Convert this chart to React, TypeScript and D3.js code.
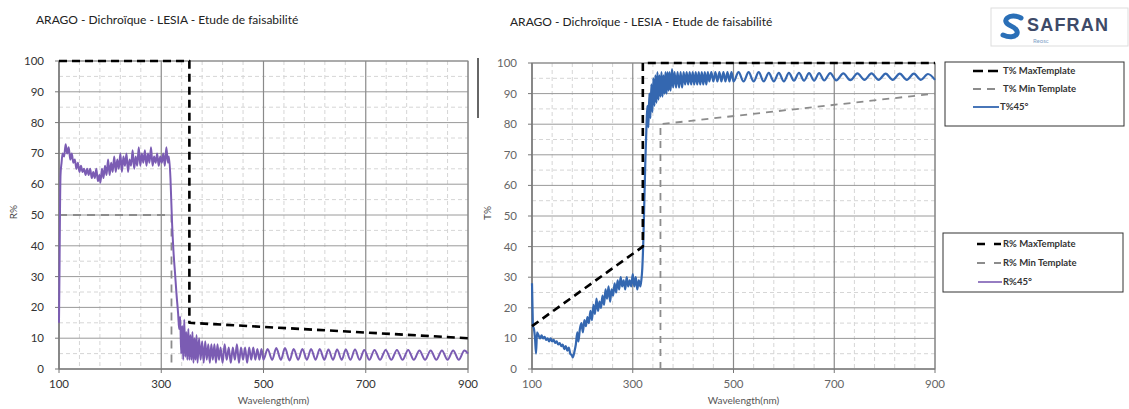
import React from 'react';
import * as d3 from 'd3';

type P = [number, number];

const TITLE = 'ARAGO - Dichroïque - LESIA - Etude de faisabilité';
const WL_TICKS = [100, 300, 500, 700, 900];
const PCT_TICKS = [0, 10, 20, 30, 40, 50, 60, 70, 80, 90, 100];
const X_LABEL = 'Wavelength(nm)';

// Left panel: reflection
const R_MAX_TEMPLATE: P[] = [[100, 100], [355, 100], [355, 15], [900, 10]];
const R_MIN_TEMPLATE: P[] = [[100, 50], [320, 50], [320, 0]];
const R_45: P[] = [
  [100, 15], [101, 32], [102, 52], [103, 63], [105, 67], [107, 70], [110, 69], [113, 73], [116, 70], [119, 72],
  [122, 68], [125, 70], [128, 67], [131, 68], [134, 65], [137, 67], [140, 64], [143, 66], [146, 64], [149, 65],
  [152, 63], [155, 65], [158, 63], [161, 65], [164, 62], [167, 64], [170, 62], [173, 65], [176, 61], [179, 63],
  [181, 60.5], [184, 65], [187, 62], [190, 66], [193, 63], [196, 68], [199, 63], [202, 67], [205, 64], [208, 69],
  [211, 64], [214, 68], [217, 65], [220, 70], [223, 64], [226, 69], [229, 66], [232, 70], [235, 64], [238, 68],
  [241, 66], [244, 71], [247, 65], [250, 69], [253, 66], [256, 72], [259, 66], [262, 70], [265, 67], [268, 71],
  [271, 66], [274, 70], [277, 67], [280, 72], [283, 66], [286, 69], [289, 67], [292, 70], [295, 66], [298, 69],
  [301, 67], [304, 70], [307, 66], [310, 72], [313, 67], [315, 69], [318, 62], [321, 48], [324, 38], [327, 31],
  [330, 24], [333, 18], [335, 13], [337, 17], [339, 5], [341, 14], [343, 3], [345, 16], [347, 4], [349, 12],
  [351, 3], [353, 13], [355, 3], [357, 11], [359, 3], [361, 12], [363, 2], [365, 10], [367, 3], [369, 11],
  [371, 2], [374, 10], [377, 3], [380, 9], [383, 2], [386, 9], [389, 3], [392, 8], [395, 2], [398, 8],
  [401, 3], [404, 8], [407, 2], [410, 8], [413, 3], [416, 7], [420, 2], [424, 8], [428, 3], [432, 7],
  [436, 2], [440, 7], [444, 3], [448, 8], [452, 2], [456, 7], [460, 3], [464, 7], [468, 2], [472, 7],
  [476, 3], [480, 7], [484, 3], [488, 6.5], [492, 3], [496, 6.5], [500, 3], [508, 6.5], [517, 3], [525, 6.8],
  [534, 3], [542, 6.8], [551, 2.8], [559, 6.5], [568, 3], [576, 6.5], [585, 3], [593, 6.5], [602, 3], [610, 6.5],
  [619, 3], [627, 6.3], [636, 3], [644, 6.3], [653, 3], [661, 6.3], [670, 3], [679, 6.3], [688, 3], [697, 6.2],
  [707, 3], [717, 6.2], [728, 3], [739, 6.2], [750, 3], [761, 6.2], [772, 3], [783, 6.2], [794, 3], [805, 6],
  [816, 3], [827, 6], [838, 3], [849, 6], [860, 3], [871, 6], [882, 3], [893, 6], [900, 5],
];

// Right panel: transmission
const T_MAX_TEMPLATE: P[] = [[100, 14], [320, 40], [320, 100], [900, 100]];
const T_MIN_TEMPLATE: P[] = [[355, 0], [355, 80], [900, 90]];
const T_45: P[] = [
  [100, 28], [101, 20], [102, 14], [104, 13], [106, 10], [108, 5], [110, 12], [113, 11], [116, 10], [119, 11],
  [122, 10], [125, 10.5], [128, 9.5], [131, 10], [134, 9], [137, 10], [140, 9], [143, 9.5], [146, 8.5], [149, 9],
  [152, 8], [155, 8.5], [158, 7.5], [161, 8], [164, 6.5], [167, 7.5], [170, 6], [173, 7], [176, 5], [179, 4.5],
  [181, 3.8], [184, 5.5], [187, 8], [190, 12], [192, 9], [195, 13], [198, 15], [201, 12], [204, 16], [207, 14],
  [210, 17], [213, 15], [216, 19], [219, 16], [222, 21], [225, 18], [228, 23], [231, 19], [234, 22], [237, 20],
  [240, 24], [243, 21], [246, 26], [249, 23], [252, 27], [255, 22], [258, 26], [261, 24], [264, 28], [267, 25],
  [270, 29], [273, 26], [276, 30], [279, 27], [282, 29], [285, 26], [288, 30], [291, 27], [294, 29], [297, 27],
  [300, 31], [303, 27], [306, 30], [309, 26], [312, 29], [315, 27], [317, 29], [319, 33], [321, 42], [323, 55],
  [325, 68], [327, 78], [329, 86], [331, 79], [333, 90], [335, 82], [337, 93], [339, 84], [341, 95], [343, 86],
  [345, 96], [347, 87], [349, 97], [351, 88], [353, 96], [355, 89], [357, 97], [359, 89], [361, 96], [363, 90],
  [365, 97], [367, 90], [369, 97], [371, 91], [373, 97], [375, 91], [378, 98], [380, 92], [383, 97], [386, 92],
  [389, 97], [392, 92], [395, 97], [398, 92], [401, 97], [404, 93], [407, 97], [410, 93], [413, 97], [416, 93],
  [419, 97], [422, 93], [425, 97], [428, 93], [431, 97], [434, 93], [437, 97], [440, 93], [443, 97], [446, 93],
  [449, 97], [452, 94], [456, 97], [460, 94], [464, 97], [468, 94], [472, 97], [476, 94], [480, 97], [484, 94],
  [488, 97], [492, 94], [496, 97], [500, 94], [510, 97], [520, 94], [530, 97], [540, 94], [550, 97], [560, 94],
  [570, 96.8], [580, 94], [590, 96.8], [600, 94], [610, 96.8], [620, 94.2], [630, 96.8], [640, 94.2], [650, 96.7],
  [660, 94.2], [670, 96.7], [680, 94.3], [692, 96.7], [704, 94.3], [718, 96.6], [732, 94.4], [746, 96.6], [760, 94.5],
  [774, 96.6], [788, 94.5], [802, 96.5], [816, 94.5], [830, 96.5], [844, 94.5], [858, 96.5], [872, 94.5], [886, 96.4],
  [900, 94.5],
];

const FONT = "Lato, 'Open Sans', Arial, sans-serif";

interface Series { data: P[]; color: string; width: number; dash?: string; smooth?: boolean }

interface PanelProps {
  x0: number; x1: number; y0: number; y1: number;
  yLabel: string; yLabelX: number; tickColor: string;
  series: Series[];
}

function Panel({ x0, x1, y0, y1, yLabel, yLabelX, tickColor, series }: PanelProps) {
  const x = d3.scaleLinear().domain([100, 900]).range([x0, x1]);
  const y = d3.scaleLinear().domain([0, 100]).range([y1, y0]);
  const minorX = d3.range(100, 901, 40).filter((v) => !WL_TICKS.includes(v));
  const minorY = d3.range(5, 100, 10);
  const lineFor = (s: Series) =>
    d3.line<P>().x((d) => x(d[0])).y((d) => y(d[1])).curve(s.smooth ? d3.curveMonotoneX : d3.curveLinear)(s.data) || '';
  return (
    <g>
      {minorY.map((v) => (
        <line key={'my' + v} x1={x0} x2={x1} y1={y(v)} y2={y(v)} stroke="#d6d6d6" strokeWidth={1} strokeDasharray="4,3" />
      ))}
      {minorX.map((v) => (
        <line key={'mx' + v} x1={x(v)} x2={x(v)} y1={y0} y2={y1} stroke="#d6d6d6" strokeWidth={1} strokeDasharray="4,3" />
      ))}
      {PCT_TICKS.map((v) => (
        <line key={'gy' + v} x1={x0} x2={x1} y1={y(v)} y2={y(v)} stroke="#9a9a9a" strokeWidth={1} />
      ))}
      {WL_TICKS.map((v) => (
        <line key={'gx' + v} x1={x(v)} x2={x(v)} y1={y0} y2={y1} stroke="#8a8a8a" strokeWidth={1.2} />
      ))}
      <rect x={x0} y={y0} width={x1 - x0} height={y1 - y0} fill="none" stroke="#8a8a8a" strokeWidth={1} />
      <line x1={x0} x2={x0} y1={y0} y2={y1} stroke="#777" strokeWidth={1.2} />
      <line x1={x0} x2={x1} y1={y1} y2={y1} stroke="#777" strokeWidth={1.2} />
      {PCT_TICKS.map((v) => (
        <g key={'ty' + v}>
          <line x1={x0 - 4} x2={x0} y1={y(v)} y2={y(v)} stroke="#777" />
          <text x={x0 - 15} y={y(v)} dy="0.35em" textAnchor="end" fontSize={11.5} fill={tickColor} fontFamily={FONT}>{v}</text>
        </g>
      ))}
      {WL_TICKS.map((v) => (
        <g key={'tx' + v}>
          <line x1={x(v)} x2={x(v)} y1={y1} y2={y1 + 4} stroke="#777" />
          <text x={x(v)} y={y1 + 19} textAnchor="middle" fontSize={11.5} fill={tickColor} fontFamily={FONT}>{v}</text>
        </g>
      ))}
      <text x={(x0 + x1) / 2 + 10} y={y1 + 35} textAnchor="middle" fontSize={10} fill="#555" fontFamily={FONT}>{X_LABEL}</text>
      <text transform={`translate(${yLabelX},${(y0 + y1) / 2 - 3}) rotate(-90)`} textAnchor="middle" fontSize={10} fill="#444" fontFamily={FONT}>{yLabel}</text>
      {series.map((s, i) => (
        <path key={i} d={lineFor(s)} fill="none" stroke={s.color} strokeWidth={s.width} strokeDasharray={s.dash} strokeLinejoin="round" />
      ))}
    </g>
  );
}

const PURPLE = '#7b5cb3';
const BLUE = '#3467b0';

export default function App() {
  return (
    <svg width={1129} height={409} style={{ position: 'absolute', left: 0, top: 0, background: '#fff' }}>
      <rect width={1129} height={409} fill="#fff" />
      <text x={36} y={24} fontSize={12} fill="#222" fontFamily={FONT}>{TITLE}</text>
      <text x={510} y={26} fontSize={12} fill="#222" fontFamily={FONT}>{TITLE}</text>
      <Panel
        x0={59} x1={468} y0={61} y1={369} yLabel="R%" yLabelX={17} tickColor="#333"
        series={[
          { data: R_MIN_TEMPLATE, color: '#8c8c8c', width: 1.8, dash: '8,6' },
          { data: R_45, color: PURPLE, width: 2, smooth: true },
          { data: R_MAX_TEMPLATE, color: '#000', width: 2.6, dash: '8,5' },
        ]}
      />
      <line x1={478} x2={478} y1={58} y2={118} stroke="#666" strokeWidth={2} />
      <Panel
        x0={532} x1={935} y0={63} y1={369} yLabel="T%" yLabelX={491} tickColor="#666"
        series={[
          { data: T_MIN_TEMPLATE, color: '#8c8c8c', width: 1.8, dash: '7,6' },
          { data: T_45, color: BLUE, width: 2.2, smooth: true },
          { data: T_MAX_TEMPLATE, color: '#000', width: 2.6, dash: '8,5' },
        ]}
      />
      {/* Logo */}
      <rect x={991} y={8} width={137} height={38} fill="#fff" stroke="#ddd" />
      <path d="M1021 18 C1010 12, 999 21, 1011 26 C1023 31, 1016 41, 1003 35" fill="none" stroke="#2a6fb7" strokeWidth={5} strokeLinecap="round" />
      <text x={1027} y={31} fontSize={18} fontWeight="bold" letterSpacing={1.2} fill="#3e4a68" fontFamily="'Liberation Sans', Arial, sans-serif">SAFRAN</text>
      <text x={1033} y={43} fontSize={6} fill="#7fa3c8" fontFamily={FONT}>Reosc</text>
      {/* Legend T */}
      <rect x={945} y={62} width={179} height={64} fill="#fff" stroke="#333" strokeWidth={1} />
      <line x1={973} x2={999} y1={71} y2={71} stroke="#000" strokeWidth={2.6} strokeDasharray="10,5" />
      <text x={1003} y={71} dy="0.35em" fontSize={9.5} fontWeight="bold" fill="#333" fontFamily={FONT}>T% MaxTemplate</text>
      <line x1={973} x2={999} y1={89} y2={89} stroke="#8c8c8c" strokeWidth={1.8} strokeDasharray="8,6" />
      <text x={1003} y={89} dy="0.35em" fontSize={9.5} fontWeight="bold" fill="#333" fontFamily={FONT}>T% Min Template</text>
      <line x1={973} x2={999} y1={107} y2={107} stroke={BLUE} strokeWidth={1.8} />
      <text x={1000} y={107} dy="0.35em" fontSize={9.5} fontWeight="bold" fill="#333" fontFamily={FONT}>T%45°</text>
      {/* Legend R */}
      <rect x={943} y={233} width={180} height={59} fill="#fff" stroke="#333" strokeWidth={1} />
      <line x1={977} x2={1001} y1={244} y2={244} stroke="#000" strokeWidth={2.6} strokeDasharray="8,9" />
      <text x={1003} y={244} dy="0.35em" fontSize={9.5} fontWeight="bold" fill="#333" fontFamily={FONT}>R% MaxTemplate</text>
      <line x1={977} x2={1001} y1={263} y2={263} stroke="#8c8c8c" strokeWidth={1.8} strokeDasharray="8,9" />
      <text x={1003} y={263} dy="0.35em" fontSize={9.5} fontWeight="bold" fill="#333" fontFamily={FONT}>R% Min Template</text>
      <line x1={978} x2={1002} y1={282} y2={282} stroke={PURPLE} strokeWidth={1.6} />
      <text x={1003} y={282} dy="0.35em" fontSize={9.5} fontWeight="bold" fill="#333" fontFamily={FONT}>R%45°</text>
    </svg>
  );
}
